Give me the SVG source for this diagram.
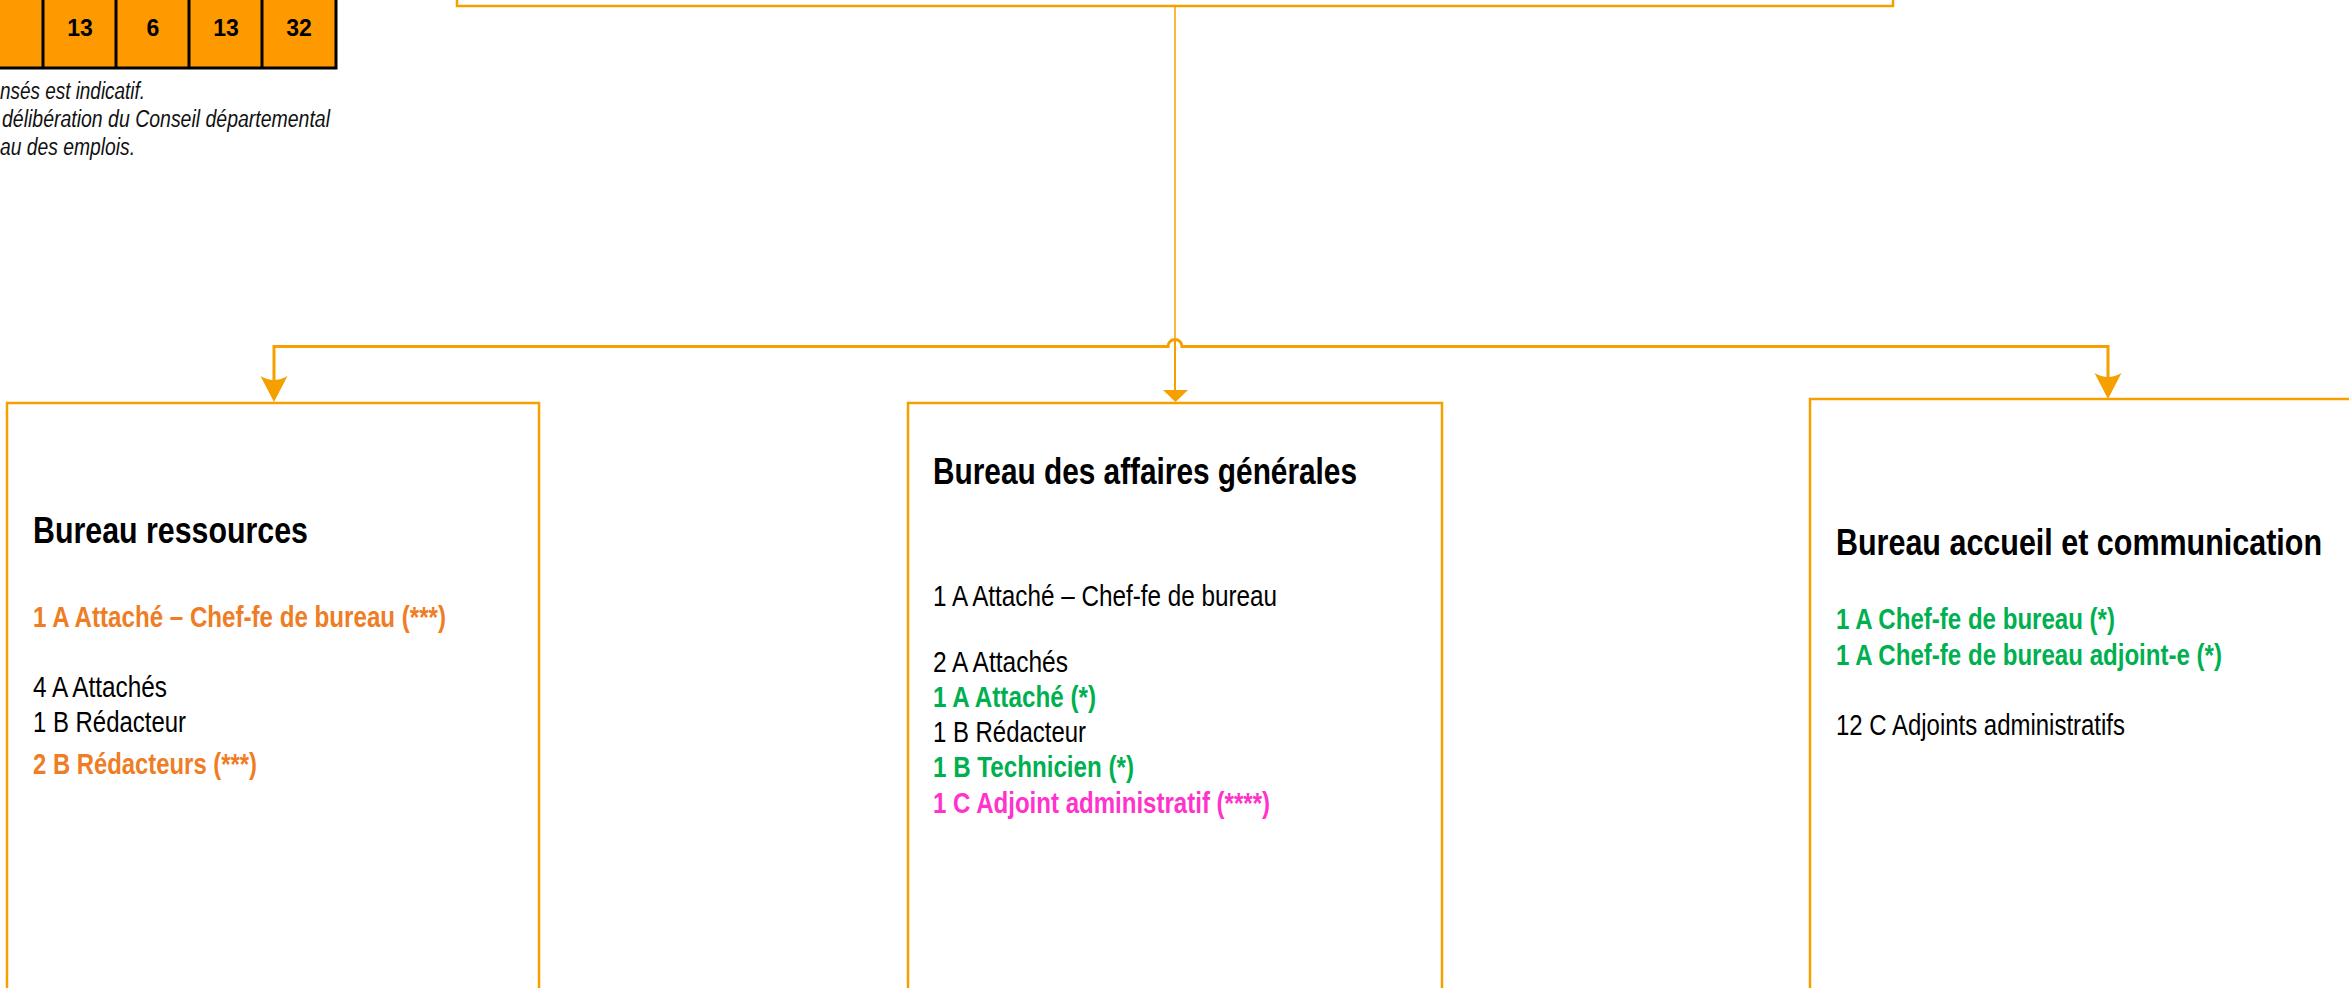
<svg xmlns="http://www.w3.org/2000/svg" width="2349" height="988" viewBox="0 0 2349 988">
<style>
.box{fill:#FFFFFF;stroke:#F6A000;stroke-width:2.5}
.conn{fill:none;stroke:#F6A000}
.head{fill:#F6A000;stroke:none}
.t{font-family:"Liberation Sans",Arial,sans-serif}
.title{font-size:36px;font-weight:bold;fill:#000000}
.body{font-size:29px;fill:#000000}
.b{font-weight:bold}
.orange{fill:#EE7D26}
.green{fill:#00B050}
.pink{fill:#FF33CC}
.note{font-family:"Liberation Sans",Arial,sans-serif;font-size:23px;font-style:italic;fill:#111111}
.num{font-family:"Liberation Sans",Arial,sans-serif;font-size:23px;font-weight:bold;fill:#000000}
</style>
<rect x="0" y="0" width="2349" height="988" fill="#FFFFFF"/>
<g id="table">
<rect x="-10" y="-10" width="346" height="78" fill="#FF9900" stroke="#000000" stroke-width="3"/>
<line x1="43" y1="-5" x2="43" y2="68" stroke="#000000" stroke-width="3"/>
<line x1="116" y1="-5" x2="116" y2="68" stroke="#000000" stroke-width="3"/>
<line x1="189" y1="-5" x2="189" y2="68" stroke="#000000" stroke-width="3"/>
<line x1="262" y1="-5" x2="262" y2="68" stroke="#000000" stroke-width="3"/>
<text class="num" x="80" y="36" text-anchor="middle">13</text>
<text class="num" x="153" y="36" text-anchor="middle">6</text>
<text class="num" x="226" y="36" text-anchor="middle">13</text>
<text class="num" x="299" y="36" text-anchor="middle">32</text>
</g>
<g id="notes">
<text class="note" x="0" y="99" textLength="145" lengthAdjust="spacingAndGlyphs">nsés est indicatif.</text>
<text class="note" x="2" y="127" textLength="328" lengthAdjust="spacingAndGlyphs">délibération du Conseil départemental</text>
<text class="note" x="0" y="155" textLength="135" lengthAdjust="spacingAndGlyphs">au des emplois.</text>
</g>
<g id="top-node">
<rect class="box" x="457" y="-20" width="1436" height="26" stroke-width="3"/>
</g>
<g id="connectors">
<line class="conn" x1="1175" y1="6" x2="1175" y2="340" stroke-width="1.5"/>
<line class="conn" x1="1175" y1="340" x2="1175" y2="392" stroke-width="2"/>
<path class="conn" stroke-width="3" d="M274,382 L274,346.5 L1168,346.5 A7,7 0 0 1 1182,346.5 L2108,346.5 L2108,379"/>
<path class="head" d="M274,402 L260.5,376 Q274,384 287.5,376 Z"/>
<path class="head" d="M1175.5,402 L1163,390 L1188,390 Z"/>
<path class="head" d="M2108,399 L2094.5,373 Q2108,381 2121.5,373 Z"/>
</g>
<g id="bureau-ressources">
<rect class="box" x="7" y="403" width="532" height="700"/>
<text class="t title" x="33" y="543" textLength="275" lengthAdjust="spacingAndGlyphs">Bureau ressources</text>
<text class="t body b orange" x="33" y="627" textLength="413" lengthAdjust="spacingAndGlyphs">1 A Attaché – Chef-fe de bureau (***)</text>
<text class="t body" x="33" y="697" textLength="134" lengthAdjust="spacingAndGlyphs">4 A Attachés</text>
<text class="t body" x="33" y="732" textLength="153" lengthAdjust="spacingAndGlyphs">1 B Rédacteur</text>
<text class="t body b orange" x="33" y="774" textLength="224" lengthAdjust="spacingAndGlyphs">2 B Rédacteurs (***)</text>
</g>
<g id="bureau-affaires-generales">
<rect class="box" x="908" y="403" width="534" height="700"/>
<text class="t title" x="933" y="484" textLength="424" lengthAdjust="spacingAndGlyphs">Bureau des affaires générales</text>
<text class="t body" x="933" y="606" textLength="344" lengthAdjust="spacingAndGlyphs">1 A Attaché – Chef-fe de bureau</text>
<text class="t body" x="933" y="672" textLength="135" lengthAdjust="spacingAndGlyphs">2 A Attachés</text>
<text class="t body b green" x="933" y="707" textLength="163" lengthAdjust="spacingAndGlyphs">1 A Attaché (*)</text>
<text class="t body" x="933" y="742" textLength="153" lengthAdjust="spacingAndGlyphs">1 B Rédacteur</text>
<text class="t body b green" x="933" y="777" textLength="201" lengthAdjust="spacingAndGlyphs">1 B Technicien (*)</text>
<text class="t body b pink" x="933" y="813" textLength="337" lengthAdjust="spacingAndGlyphs">1 C Adjoint administratif (****)</text>
</g>
<g id="bureau-accueil-communication">
<rect class="box" x="1810" y="399" width="600" height="700"/>
<text class="t title" x="1836" y="555" textLength="486" lengthAdjust="spacingAndGlyphs">Bureau accueil et communication</text>
<text class="t body b green" x="1836" y="629" textLength="279" lengthAdjust="spacingAndGlyphs">1 A Chef-fe de bureau (*)</text>
<text class="t body b green" x="1836" y="665" textLength="386" lengthAdjust="spacingAndGlyphs">1 A Chef-fe de bureau adjoint-e (*)</text>
<text class="t body" x="1836" y="735" textLength="289" lengthAdjust="spacingAndGlyphs">12 C Adjoints administratifs</text>
</g>
</svg>
